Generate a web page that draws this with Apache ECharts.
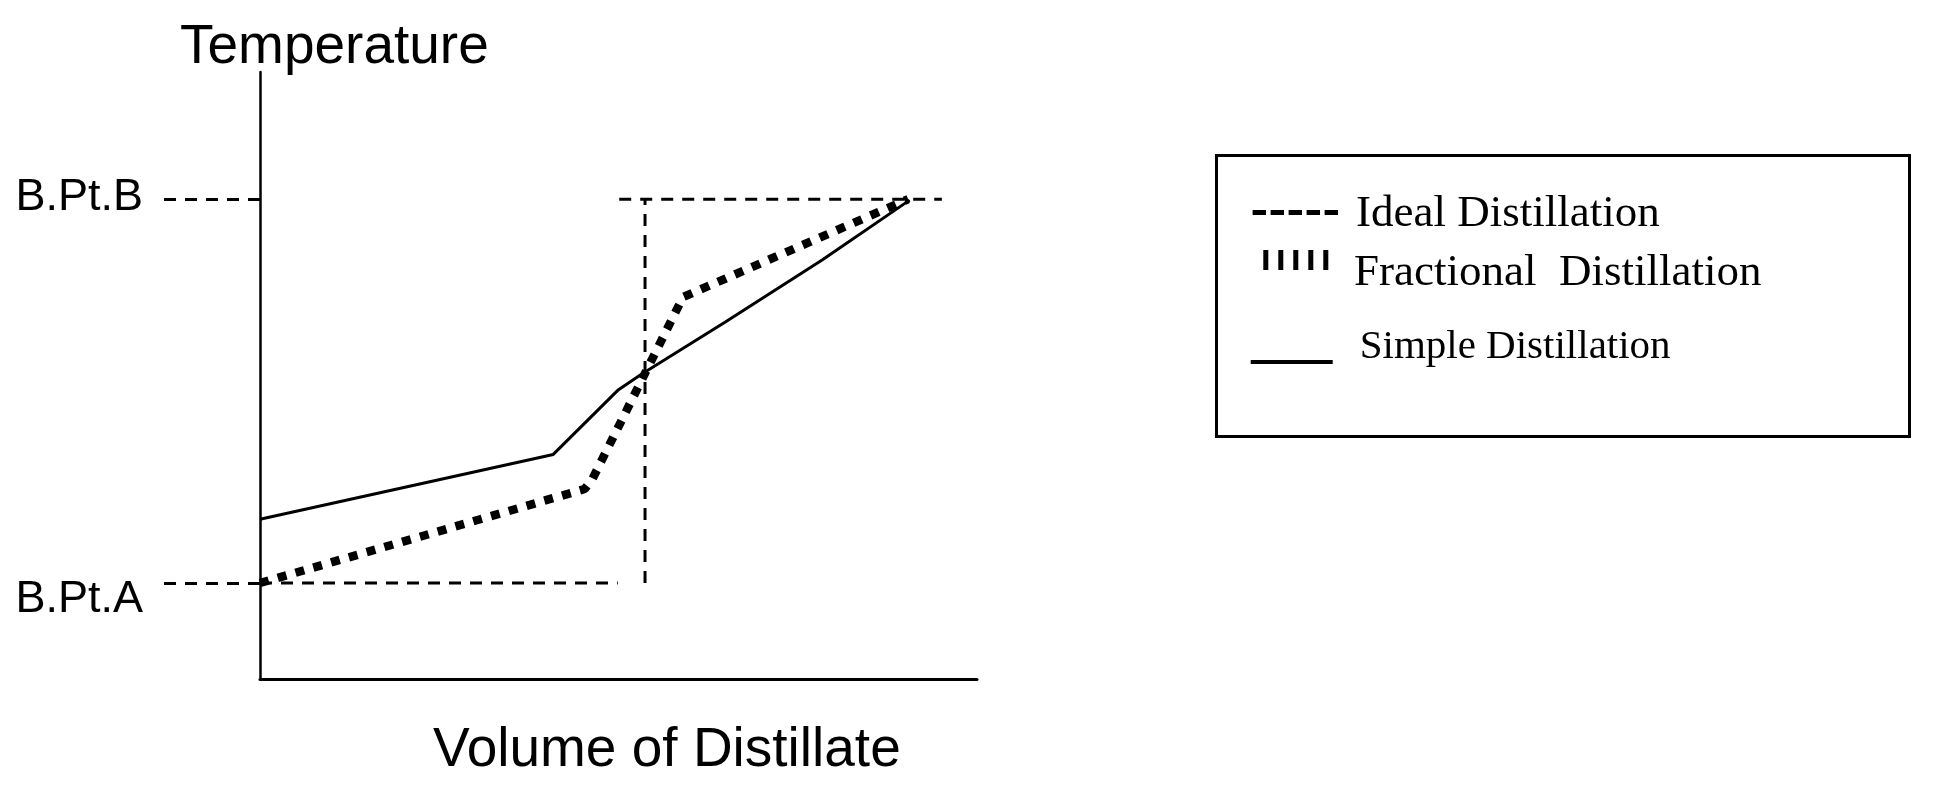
<!DOCTYPE html>
<html>
<head>
<meta charset="utf-8">
<script src="https://cdn.jsdelivr.net/npm/echarts@6/dist/echarts.min.js"></script>
<style>
html,body{margin:0;padding:0;background:#fff;}
#chart{width:1936px;height:802px;}
</style>
</head>
<body>
<div id="chart"></div>
<script>
// ---- data (x: volume of distillate, 0-100; y: temperature, B.Pt.A = 20, B.Pt.B = 100) ----
const seriesNames = ['Ideal Distillation', 'Fractional  Distillation', 'Simple Distillation'];
const tickValues = [20, 100];
const tickLabels = ['B.Pt.A', 'B.Pt.B'];

const idealX = [0, 49.9, null, 53.7, 53.7, null, 50.1, 95.1];
const idealY = [20, 20, null, 20, 100, null, 100, 100];

const fracX = [0, 45.3, 46.3, 59.0, 90.4];
const fracY = [20, 39.6, 41.5, 79.6, 100];

const simpleX = [0, 40.9, 50.0, 53.2, 64.9, 78.4, 90.6];
const simpleY = [33.3, 46.8, 60.3, 63.5, 74.4, 87.3, 99.8];

function pairs(xs, ys) {
  return xs.map((x, i) => (x === null ? ['-', '-'] : [x, ys[i]]));
}

const chart = echarts.init(document.getElementById('chart'));
const SANS = 'Liberation Sans';
const SERIF = 'Liberation Serif';

chart.setOption({
  animation: false,
  backgroundColor: '#fff',
  title: [
    { text: 'Temperature', left: 180, top: 20, padding: 0,
      textStyle: { fontFamily: SANS, fontSize: 55, fontWeight: 'normal', color: '#000' } },
    { text: 'Volume of Distillate', left: 433, top: 723, padding: 0,
      textStyle: { fontFamily: SANS, fontSize: 55, fontWeight: 'normal', color: '#000' } }
  ],
  grid: { left: 260, right: 959, top: 72, bottom: 123 },
  xAxis: {
    type: 'value', min: 0, max: 100,
    axisLine: { show: true, onZero: false, lineStyle: { color: '#000', width: 3 } },
    axisTick: { show: false }, axisLabel: { show: false }, splitLine: { show: false }
  },
  yAxis: {
    type: 'value', min: 0, max: 126.5,
    axisLine: { show: true, onZero: false, lineStyle: { color: '#000', width: 2.5 } },
    splitLine: { show: false },
    axisTick: {
      show: true,
      customValues: tickValues,
      inside: false,
      length: 98,
      lineStyle: { color: '#000', width: 3, type: [12, 9] }
    },
    axisLabel: {
      show: true,
      customValues: tickValues,
      margin: 117,
      formatter: function (v) {
        const i = tickValues.indexOf(v);
        return (i === 0 ? '{a|' : '{b|') + tickLabels[i] + '}';
      },
      rich: {
        a: { fontFamily: SANS, fontSize: 45, color: '#000', padding: [34, 0, 0, 0] },
        b: { fontFamily: SANS, fontSize: 45, color: '#000', padding: [0, 0, 3, 0] }
      }
    }
  },
  legend: [
    { data: [seriesNames[0]], left: 1252.6, top: 191.5, padding: 0, selectedMode: false,
      itemWidth: 98.4, itemHeight: 8,
      icon: 'path://M0,0h13.4v5h-13.4z M18,0h13.4v5h-13.4z M36,0h13.4v5h-13.4z M54,0h13.4v5h-13.4z M72,0h13.4v5h-13.4z M98.4,8L98.4,8',
      itemStyle: { color: '#000', borderWidth: 0 },
      textStyle: { fontFamily: SERIF, fontSize: 45, color: '#000' } },
    { data: [seriesNames[1]], left: 1263.3, top: 250, padding: 0, selectedMode: false,
      itemWidth: 85.7, itemHeight: 46,
      icon: 'path://M0,0h5v20h-5z M15,0h5v20h-5z M30,0h5v20h-5z M45,0h5v20h-5z M60,0h5v20h-5z M85.7,46L85.7,46',
      itemStyle: { color: '#000', borderWidth: 0 },
      textStyle: { fontFamily: SERIF, fontSize: 45, color: '#000' } },
    { data: [seriesNames[2]], left: 1250.7, top: 327, padding: 0, selectedMode: false,
      itemWidth: 104, itemHeight: 33,
      icon: 'path://M0,29h82v4h-82z M104,0L104,0',
      itemStyle: { color: '#000', borderWidth: 0 },
      textStyle: { fontFamily: SERIF, fontSize: 41, color: '#000' } }
  ],
  graphic: [
    { type: 'rect', silent: true,
      shape: { x: 1216.5, y: 155.5, width: 693, height: 281 },
      style: { fill: 'none', stroke: '#000', lineWidth: 3 } }
  ],
  series: [
    { name: seriesNames[0], type: 'line', data: pairs(idealX, idealY), symbol: 'none',
      connectNulls: false, silent: true,
      itemStyle: { color: '#000' },
      lineStyle: { color: '#000', width: 3, type: [12, 9] } },
    { name: seriesNames[2], type: 'line', data: pairs(simpleX, simpleY), symbol: 'none',
      silent: true, itemStyle: { color: '#000' },
      lineStyle: { color: '#000', width: 3, type: 'solid' } },
    { name: seriesNames[1], type: 'line', data: pairs(fracX, fracY), symbol: 'none',
      silent: true, itemStyle: { color: '#000' },
      lineStyle: { color: '#000', width: 8.5, type: [9, 9.5] } }
  ]
});
</script>
</body>
</html>
